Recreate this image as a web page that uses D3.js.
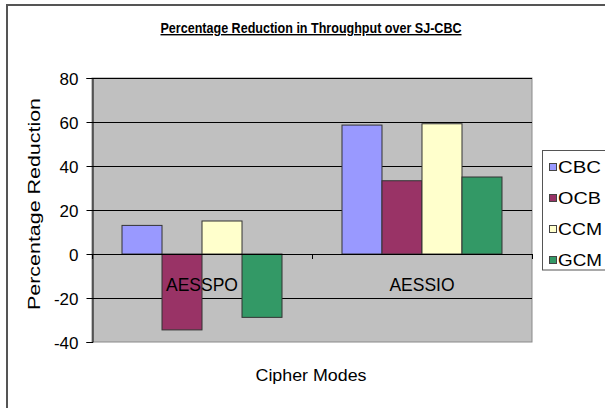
<!DOCTYPE html>
<html><head><meta charset="utf-8">
<script src="https://cdn.jsdelivr.net/npm/d3@7"></script>
<style>body{margin:0;background:#fff}svg{display:block}</style>
</head><body><svg id="c" width="605" height="408"></svg>
<script>
const categories = ["AESSPO", "AESSIO"];
const seriesNames = ["CBC", "OCB", "CCM", "GCM"];
const seriesColors = ["#9999ff", "#993366", "#ffffcc", "#339966"];
const CBC = [13, 58.6];
const OCB = [-34.5, 33.3];
const CCM = [15, 59.2];
const GCM = [-28.8, 35];
const yTicks = [-40, -20, 0, 20, 40, 60, 80];
const values = [CBC, OCB, CCM, GCM];

const svg = d3.select("#c");
const font = "'Liberation Sans', Arial, sans-serif";
// outer frame
svg.append("rect").attr("x", 7).attr("y", 5).attr("width", 610).attr("height", 410)
  .attr("fill", "#fff").attr("stroke", "#555").attr("stroke-width", 2);

const L = 92, R = 532, T = 78, B = 342;
const y = d3.scaleLinear().domain([-40, 80]).range([B, T]);
const x0 = d3.scaleBand().domain(categories).range([L, R]).paddingInner(0.2727).paddingOuter(0.1364);
const x1 = d3.scaleBand().domain(seriesNames).range([0, x0.bandwidth()]);

svg.append("rect").attr("x", L).attr("y", T).attr("width", R - L).attr("height", B - T)
  .attr("fill", "#c0c0c0").attr("stroke", "#8a8a8a").attr("stroke-width", 1);

// gridlines
svg.append("g").selectAll("line").data(yTicks.filter(d => d !== -40)).join("line")
  .attr("x1", L).attr("x2", R).attr("y1", d => Math.round(y(d)) + 0.5).attr("y2", d => Math.round(y(d)) + 0.5)
  .attr("stroke", "#000").attr("stroke-width", 1);

// bars
const g = svg.append("g");
categories.forEach((c, ci) => {
  seriesNames.forEach((s, si) => {
    const v = values[si][ci];
    g.append("rect")
      .attr("x", x0(c) + x1(s))
      .attr("y", y(Math.max(0, v)))
      .attr("width", x1.bandwidth())
      .attr("height", Math.abs(y(v) - y(0)))
      .attr("fill", seriesColors[si])
      .attr("stroke", "#333").attr("stroke-width", 1);
  });
});

// y axis
const ya = svg.append("g").attr("transform", `translate(${L + 0.5},0)`)
  .call(d3.axisLeft(y).tickValues(yTicks).tickSize(6).tickPadding(8).tickFormat(d => String(d)));
ya.select(".domain").attr("stroke", "#000");
ya.selectAll("text").attr("font-family", font).attr("font-size", 17).attr("fill", "#000").attr("dy", "0.36em");

// zero axis with category ticks
svg.append("line").attr("x1", L).attr("x2", R).attr("y1", Math.round(y(0)) + 0.5).attr("y2", Math.round(y(0)) + 0.5)
  .attr("stroke", "#000");
const edges = [L, ...categories.slice(1).map(c => x0(c) - x0.step() * x0.paddingInner() / 2), R];
svg.append("g").selectAll("line").data(edges).join("line")
  .attr("x1", d => Math.round(d) + 0.5).attr("x2", d => Math.round(d) + 0.5)
  .attr("y1", y(0)).attr("y2", y(0) + 5).attr("stroke", "#000");

// category labels
svg.append("g").selectAll("text").data(categories).join("text")
  .attr("x", d => x0(d) + x0.bandwidth() / 2).attr("y", 291)
  .attr("text-anchor", "middle").attr("font-family", font).attr("font-size", 17.5).attr("fill", "#000")
  .text(d => d);

// title
svg.append("text").attr("x", 311).attr("y", 33).attr("text-anchor", "middle")
  .attr("font-family", "'Liberation Sans Narrow', 'Arial Narrow', 'Liberation Sans', sans-serif")
  .attr("font-weight", "bold").attr("font-size", 14).attr("text-decoration", "underline")
  .attr("textLength", 301).attr("lengthAdjust", "spacingAndGlyphs")
  .text("Percentage Reduction in Throughput over SJ-CBC");

// axis titles
svg.append("text").attr("transform", "translate(39.5,204) rotate(-90)").attr("text-anchor", "middle")
  .attr("font-family", font).attr("font-size", 17).attr("textLength", 212).attr("lengthAdjust", "spacingAndGlyphs")
  .text("Percentage Reduction");
svg.append("text").attr("x", 311).attr("y", 381).attr("text-anchor", "middle")
  .attr("font-family", font).attr("font-size", 16.5).attr("textLength", 111).attr("lengthAdjust", "spacingAndGlyphs")
  .text("Cipher Modes");

// legend
const lg = svg.append("g");
lg.append("rect").attr("x", 542.5).attr("y", 150.5).attr("width", 80).attr("height", 119.5)
  .attr("fill", "#fff").attr("stroke", "#555").attr("stroke-width", 1);
seriesNames.forEach((s, i) => {
  const cy = 167 + i * 31;
  lg.append("rect").attr("x", 549.5).attr("y", cy - 3.5).attr("width", 7).attr("height", 7)
    .attr("fill", seriesColors[i]).attr("stroke", "#444");
  lg.append("text").attr("x", 558).attr("y", cy + 6).attr("font-family", font).attr("font-size", 16.5)
    .attr("textLength", s.includes("M") ? 44 : 43).attr("lengthAdjust", "spacingAndGlyphs")
    .text(s);
});
</script></body></html>
